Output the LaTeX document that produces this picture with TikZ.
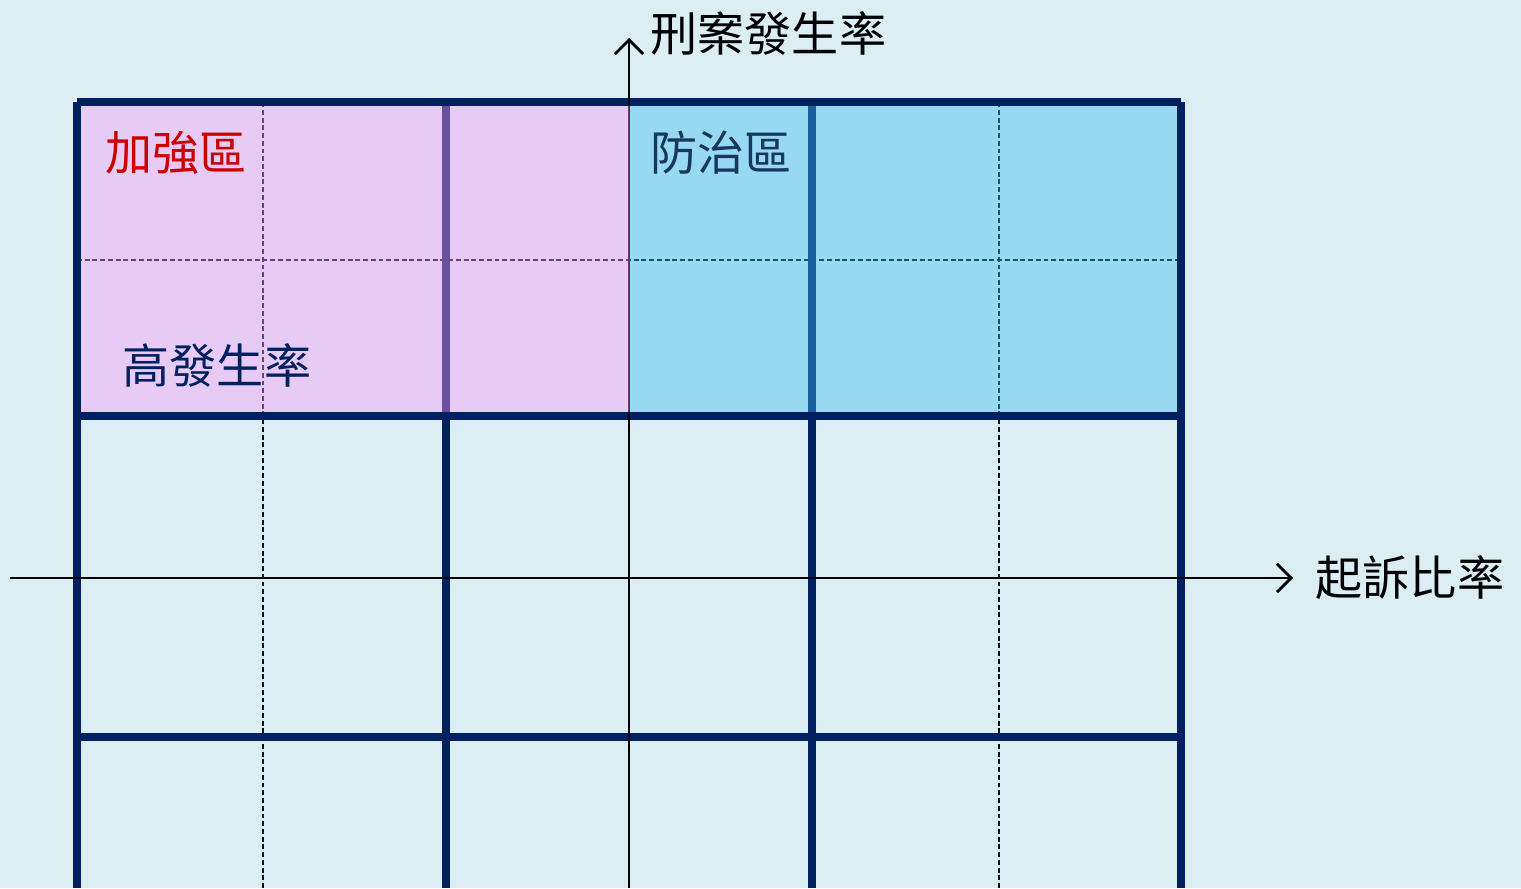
\documentclass[tikz,border=0pt]{standalone}
\usepackage{fontspec}
\newfontfamily\cjk{Noto Sans CJK TC}
\usepackage{xcolor}
\usepackage{tikz}
\usetikzlibrary{positioning}
\usetikzlibrary{arrows,arrows.meta}
\definecolor{fondo}{RGB}{218,238,243}
\definecolor{marino}{RGB}{0,32,96}
\definecolor{rosa}{RGB}{252,153,250}
\definecolor{celeste}{RGB}{57,189,240}
\definecolor{rojo}{RGB}{204,0,0}
\definecolor{tinta}{RGB}{23,55,94}
\tikzstyle{grueso} = [draw=marino, line width=2.2pt]
\tikzstyle{guion} = [draw=black!70!marino, line width=0.6pt, dash pattern=on 1.4pt off 0.8pt]
\tikzstyle{eje} = [draw, line width=0.8pt, -{Straight Barb[length=4pt,width=8pt]}]
\tikzstyle{zona} = [fill opacity=0.41, draw=none]
\tikzstyle{rotulo} = [inner sep=0pt, font=\cjk\fontsize{13.4}{16}\selectfont]

\begin{document}
\begin{tikzpicture}
\useasboundingbox (0,0) rectangle (15.21,8.88);
\fill [fondo] (0,0) rectangle (15.21,8.88);
    % grid
\foreach \x in {2.63,9.99} \draw [guion] (\x,0) -- (\x,7.86);
\draw [guion] (0.77,6.28) -- (11.81,6.28);
\foreach \x in {0.77,4.46,8.12,11.81} \draw [grueso] (\x,0) -- (\x,7.86);
\foreach \y in {7.86,4.72,1.51} \draw [grueso] (0.77,\y) -- (11.81,\y);
    % axes
\coordinate (xini) at (0.10,3.10);
\coordinate (xfin) at (12.93,3.10);
\coordinate (yini) at (6.29,0);
\coordinate (yfin) at (6.29,8.50);
\path [eje] (xini) -- (xfin);
\path [eje] (yini) -- (yfin);
    % zones
\fill [rosa, zona] (0.81,4.76) rectangle (6.29,7.82);
\fill [celeste, zona] (6.29,4.76) rectangle (11.77,7.82);
    % nodes
\node [rotulo, right=0.21cm of yfin, yshift=0.05cm] (ylab) {刑案發生率};
\node [rotulo, right=0.22cm of xfin] (xlab) {起訴比率};
\node [rotulo, text=rojo] (refuerzo) at (1.76,7.35) {加強區};
\node [rotulo, text=tinta] (prevencion) at (7.21,7.35) {防治區};
\node [rotulo, text=marino] (alta) at (2.17,5.23) {高發生率};
\end{tikzpicture}
\end{document}
